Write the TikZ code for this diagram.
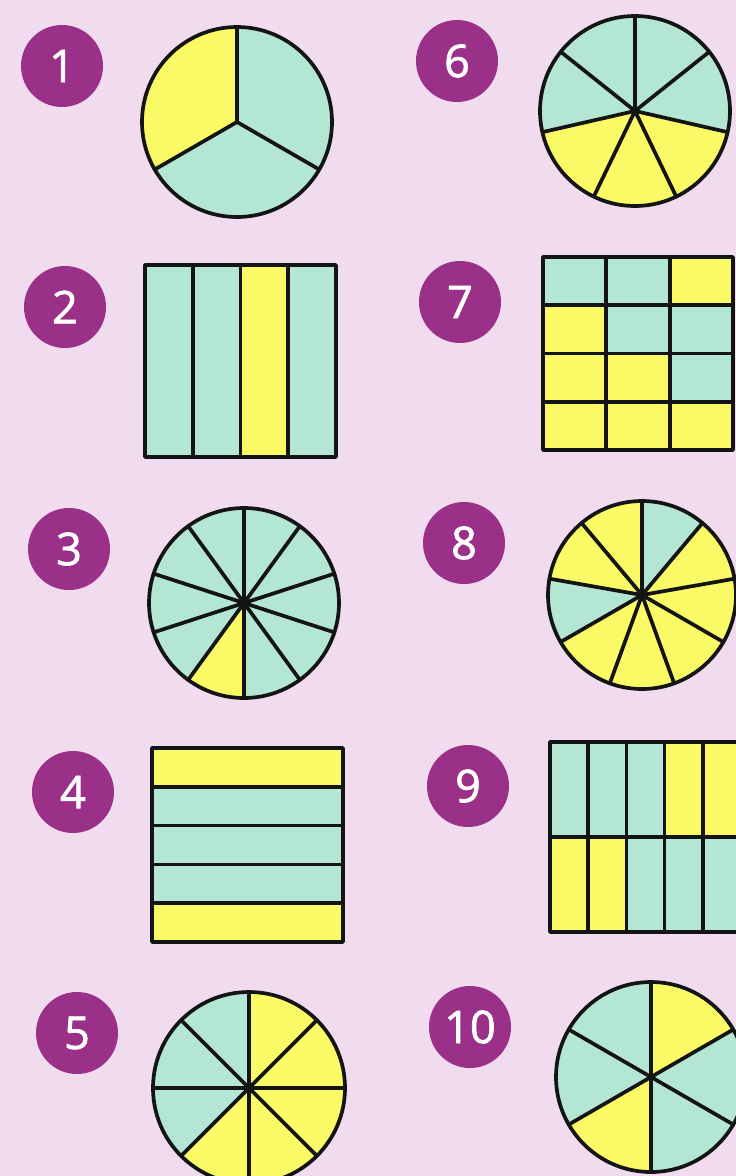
\documentclass[tikz,border=0pt]{standalone}
\usepackage{fontspec}
\newfontfamily\badgefont[FakeBold=1.6]{Open Sans}
\definecolor{bgpink}{HTML}{F1DCEF}
\definecolor{badgecol}{HTML}{9A3088}
\definecolor{cy}{HTML}{B4E6D4}
\definecolor{ye}{HTML}{FAFA66}
\tikzset{
  lw/.style={line width=3.7pt, draw=black!92, line cap=round, line join=round},
  badge/.style={circle, fill=badgecol, minimum size=82pt, inner sep=0pt, text=white,
     font=\badgefont\fontsize{45}{45}\selectfont}
}
\newcommand\drawpie[6]{%
  \begin{scope}[shift={(#1,#2)},yscale=-1]
    \foreach \col [count=\i from 0] in {#6} {
      \pgfmathsetmacro\aa{#4+\i*#5}
      \pgfmathsetmacro\bb{#4+(\i+1)*#5}
      \fill[\col] (0,0) -- (\aa:#3) arc[start angle=\aa, end angle=\bb, radius=#3] -- cycle;
    }
    \foreach \col [count=\i from 0] in {#6} {
      \pgfmathsetmacro\aa{#4+\i*#5}
      \draw[lw] (0,0) -- (\aa:#3);
    }
    \draw[lw] (0,0) circle[radius=#3];
  \end{scope}}
\begin{document}
\begin{tikzpicture}[x=1pt,y=-1pt]
\useasboundingbox (0,0) rectangle (736,1176);
\clip (0,0) rectangle (736,1176);
\fill[bgpink] (0,0) rectangle (736,1176);

% badges
\node[badge] (b1) at (62,66) {1};
\node[badge] (b2) at (65,307) {2};
\node[badge] (b3) at (69,549) {3};
\node[badge] (b4) at (73,792) {4};
\node[badge] (b5) at (77,1033) {5};
\node[badge] (b6) at (457,61) {6};
\node[badge] (b7) at (460,302) {7};
\node[badge] (b8) at (464,543) {8};
\node[badge] (b9) at (468,786) {9};
\node[badge] (b10) at (470,1027) {10};

% pies
\drawpie{237}{122}{95}{90}{120}{ye,cy,cy}
\drawpie{635}{111}{95}{90}{51.4286}{cy,cy,ye,ye,ye,cy,cy}
\drawpie{244}{603}{95}{90}{36}{cy,cy,cy,cy,ye,cy,cy,cy,cy,cy}
\drawpie{642}{595}{94}{90}{40}{ye,ye,cy,ye,ye,ye,ye,ye,cy}
\drawpie{249}{1088}{96}{90}{45}{cy,cy,cy,ye,ye,ye,ye,ye}
\drawpie{651}{1077}{95}{90}{60}{cy,cy,ye,cy,cy,ye}

% shape 2: four vertical strips
\fill[cy] (145,265) rectangle (336,457);
\fill[ye] (240.5,265) rectangle (288.25,457);
\draw[lw] (192.75,265) -- (192.75,457) (240.5,265) -- (240.5,457) (288.25,265) -- (288.25,457);
\draw[lw] (145,265) rectangle (336,457);

% shape 7: 3 x 4 grid
\fill[ye] (543,257) rectangle (733,450);
\fill[cy] (543,257) rectangle (669.7,305.25);
\fill[cy] (606.3,305.25) rectangle (733,353.5);
\fill[cy] (669.7,353.5) rectangle (733,401.75);
\draw[lw] (606.3,257) -- (606.3,450) (669.7,257) -- (669.7,450);
\draw[lw] (543,305.25) -- (733,305.25) (543,353.5) -- (733,353.5) (543,401.75) -- (733,401.75);
\draw[lw] (543,257) rectangle (733,450);

% shape 4: five horizontal strips
\fill[cy] (152,748) rectangle (343,942);
\fill[ye] (152,748) rectangle (343,786.8);
\fill[ye] (152,903.2) rectangle (343,942);
\draw[lw] (152,786.8) -- (343,786.8) (152,825.6) -- (343,825.6) (152,864.4) -- (343,864.4) (152,903.2) -- (343,903.2);
\draw[lw] (152,748) rectangle (343,942);

% shape 9: 5 x 2 grid
\fill[cy] (550,742) rectangle (741,932);
\fill[ye] (664.6,742) rectangle (741,837);
\fill[ye] (550,837) rectangle (626.4,932);
\draw[lw] (588.2,742) -- (588.2,932) (626.4,742) -- (626.4,932) (664.6,742) -- (664.6,932) (702.8,742) -- (702.8,932);
\draw[lw] (550,837) -- (741,837);
\draw[lw] (550,742) rectangle (741,932);
\end{tikzpicture}
\end{document}
